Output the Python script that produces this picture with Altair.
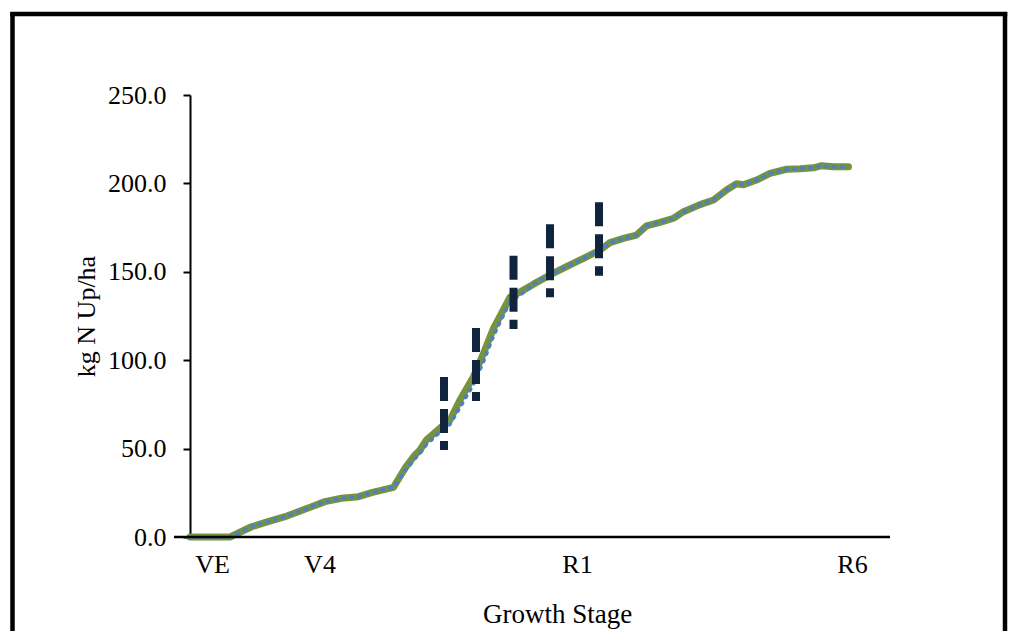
import altair as alt
import pandas as pd

# Growth-stage positions on the time axis (days) and their labels
stage_names = ["VE", "V4", "R1", "R6"]
stage_pos = [4.4, 25.9, 77.4, 132.4]

# Cumulative N uptake (kg N/ha) over the season
day = [0, 8, 12.3, 15.6, 19, 24.3, 27, 30.3, 33.7, 36.3, 40.7, 43, 45, 46, 47.3,
       50, 52, 54, 56.7, 58.7, 60.7, 62.3, 64, 66, 68.7, 72, 75.3, 78.7, 82, 84,
       86.7, 89.3, 91.3, 94, 96.7, 98.7, 102, 104.7, 107.3, 109.3, 110.7, 113.3,
       116, 119.3, 122, 124.7, 126.3, 128.7, 131.7]
uptake_model = [0, 0, 5.8, 8.7, 11.5, 17.1, 20.0, 21.9, 22.8, 25.1, 28.1, 38.9,
                46.4, 49.2, 54.9, 61.5, 66.2, 77.5, 90.7, 103.9, 118.0, 126.5,
                135.7, 138.5, 143.0, 148.2, 152.9, 157.6, 162.3, 166.5, 168.9,
                170.8, 176.0, 178.0, 180.3, 184.0, 188.0, 190.6, 196.3, 199.8,
                199.2, 201.9, 205.7, 208.0, 208.3, 208.8, 210.0, 209.4, 209.4]
uptake_alt = [0, 0, 5.8, 8.7, 11.5, 17.1, 20.0, 21.9, 22.8, 25.1, 28.1, 37.5,
              44.5, 47.5, 52.5, 59.5, 64.0, 73.5, 86.5, 99.5, 114.0, 123.5,
              133.0, 137.0, 143.0, 148.2, 152.9, 157.6, 162.3, 166.5, 168.9,
              170.8, 176.0, 178.0, 180.3, 184.0, 188.0, 190.6, 196.3, 199.8,
              199.2, 201.9, 205.7, 208.0, 208.3, 208.8, 210.0, 209.4, 209.4]

# Measured uptake ranges (low/high) at sampling dates
obs_day = [50.8, 57.2, 64.7, 72.0, 81.8]
obs_low = [49.2, 76.9, 117.6, 135.6, 147.8]
obs_high = [90.5, 118.2, 159.1, 176.9, 189.3]

W, H = 700, 442
FONT = "Liberation Serif"

lines = pd.DataFrame({"day": day, "model": uptake_model, "alt": uptake_alt})
obs = pd.DataFrame({"day": obs_day, "low": obs_low, "high": obs_high})
one = pd.DataFrame({"k": [0]})

label_map = "{" + ",".join(f"'{p}':'{n}'" for p, n in zip(stage_pos, stage_names)) + "}"

x_scale = alt.Scale(domain=[0, 140], nice=False, zero=False)
y_scale = alt.Scale(domain=[0, 250], nice=False)

x_axis = alt.Axis(
    title="Growth Stage", values=stage_pos, labelExpr=f"{label_map}[datum.value]",
    ticks=False, tickSize=0, domain=False, grid=False, labelPadding=14,
    labelFont=FONT, labelFontSize=26, labelColor="#000000",
    labelBaseline="top",
    titleFont=FONT, titleFontSize=27, titleFontWeight="normal",
    titleColor="#000000", titleX=367, titleY=85, titleBaseline="alphabetic",
)
y_axis = alt.Axis(
    title="kg N Up/ha", values=[0, 50, 100, 150, 200, 250], format=".1f",
    grid=False, domainColor="#000000", domainWidth=2, tickColor="#000000",
    tickWidth=2, tickSize=7, labelPadding=17,
    labelFont=FONT, labelFontSize=26, labelColor="#000000",
    titleFont=FONT, titleFontSize=26, titleFontWeight="normal",
    titleColor="#000000", titleX=-104, titleY=221, titleAngle=-90,
    titleBaseline="middle", titleAlign="center",
)

green = alt.Chart(lines).mark_line(
    color="#77933C", strokeWidth=7, strokeJoin="round", strokeCap="round"
).encode(
    x=alt.X("day:Q", scale=x_scale, axis=x_axis),
    y=alt.Y("model:Q", scale=y_scale, axis=y_axis),
)

blue = alt.Chart(lines).mark_line(
    color="#4F81BD", strokeWidth=4, strokeCap="round", strokeDash=[1.5, 6.5]
).encode(
    x=alt.X("day:Q", scale=x_scale),
    y=alt.Y("alt:Q", scale=y_scale),
)

bars = alt.Chart(obs).mark_rule(
    color="#10243E", strokeWidth=8, strokeDash=[24, 8], strokeCap="butt"
).encode(
    x=alt.X("day:Q", scale=x_scale),
    y=alt.Y("high:Q", scale=y_scale),
    y2="low:Q",
)

# horizontal axis line, running a little left of the value axis
x_line = alt.Chart(one).mark_rule(color="#000000", strokeWidth=2.5).encode(
    x=alt.value(-16), x2=alt.value(W), y=alt.value(H)
)

# outer frame of the chart
frame_left = alt.Chart(one).mark_rule(color="#000000", strokeWidth=4.5).encode(
    x=alt.value(-177.5), y=alt.value(-83), y2=alt.value(560)
)
frame_top = alt.Chart(one).mark_rule(color="#000000", strokeWidth=4.5).encode(
    x=alt.value(-179.75), x2=alt.value(817.25), y=alt.value(-81)
)
frame_right = alt.Chart(one).mark_rule(color="#000000", strokeWidth=4.5).encode(
    x=alt.value(815), y=alt.value(-83), y2=alt.value(560)
)

chart = alt.layer(
    green, blue, bars, x_line, frame_left, frame_top, frame_right
).properties(
    width=W, height=H,
    autosize=alt.AutoSizeParams(type="none"),
    padding={"left": 190, "top": 95, "right": 120, "bottom": 94},
).configure(
    background="#ffffff",
).configure_view(
    stroke="transparent", strokeWidth=0,
)

chart.save("out.html", embed_options={"renderer": "svg", "actions": False})
